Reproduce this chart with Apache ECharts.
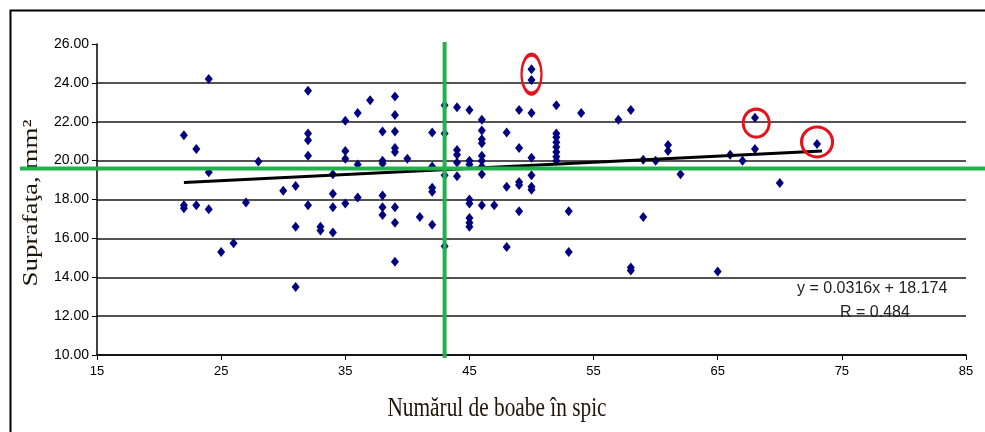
<!DOCTYPE html>
<html>
<head>
<meta charset="utf-8">
<script src="https://cdn.jsdelivr.net/npm/echarts@6/dist/echarts.min.js"></script>
<style>
  html, body { margin: 0; padding: 0; background: #fff; }
  #chart { width: 985px; height: 432px; }
</style>
</head>
<body>
<div id="chart"></div>
<script>
// numarul de boabe in spic (x) si suprafata (y)
const boabe = [
  22, 22, 22, 23, 23, 24, 24, 24, 25, 26, 27, 28, 30, 31, 31, 31,
  32, 32, 32, 32, 32, 33, 33, 34, 34, 34, 34, 35, 35, 35, 35,
  36, 36, 36, 37, 38, 38, 38, 38, 38, 38,
  39, 39, 39, 39, 39, 39, 39, 39, 40, 41,
  42, 42, 42, 42, 42, 43, 43, 43, 43, 44, 44, 44, 44, 44,
  45, 45, 45, 45, 45, 45, 45, 45,
  46, 46, 46, 46, 46, 46, 46, 46, 46, 47, 48, 48, 48,
  49, 49, 49, 49, 49, 50, 50, 50, 50, 50, 50, 50,
  52, 52, 52, 52, 52, 52, 52, 52, 53, 53, 54, 57, 58, 58, 58,
  59, 59, 60, 61, 61, 62, 65, 66, 67, 68, 68, 70, 73
]
const suprafata = [
  21.3, 17.55, 17.7, 20.6, 17.7, 24.2, 19.4, 17.5, 15.3, 15.75, 17.85, 19.95, 18.45, 18.7, 16.6, 13.5,
  23.6, 21.4, 21.05, 20.25, 17.7, 16.6, 16.4, 19.3, 18.3, 17.6, 16.3, 22.05, 20.5, 20.1, 17.8,
  22.45, 19.8, 18.1, 23.1, 21.5, 20.0, 19.85, 18.2, 17.6, 17.2,
  23.3, 22.35, 21.5, 20.65, 20.45, 17.6, 16.8, 14.8, 20.1, 17.1,
  21.45, 19.7, 18.6, 18.4, 16.7, 22.85, 21.4, 19.25, 15.6, 22.75, 20.55, 20.3, 19.9, 19.2,
  22.6, 20.0, 19.8, 18.0, 17.8, 17.05, 16.8, 16.6,
  22.1, 21.55, 21.1, 20.9, 20.25, 20.0, 19.7, 19.3, 17.7, 17.7, 21.45, 18.65, 15.55,
  22.6, 20.65, 18.9, 18.75, 17.4, 24.7, 24.15, 22.45, 20.15, 19.25, 18.65, 18.5,
  22.85, 21.4, 21.2, 20.95, 20.7, 20.45, 20.2, 20.0, 17.4, 15.3, 22.45, 22.1, 22.6, 14.5, 14.35,
  20.05, 17.1, 20.0, 20.8, 20.5, 19.3, 14.3, 20.3, 20.0, 22.2, 20.6, 18.85, 20.85
]

// linia de trend (capete) si media (liniile verzi)
const trendLine = [[22, 18.87], [73.4, 20.49]]
const mediaBoabe = 43
const mediaSuprafata = 19.6

// punctele incercuite cu rosu: [x, y, latime, inaltime]
const cercuri = [[50, 24.45, 20, 39], [68.1, 21.93, 26, 28], [73, 20.96, 31, 30]]

const xTicks = { min: 15, max: 85, interval: 10 }
const yTicks = { min: 10, max: 26, interval: 2 }

const puncte = boabe.map((x, i) => [x, suprafata[i]])
const verde = '#22b14c'
const titluFont = '27px "Liberation Serif"'

const myChart = echarts.init(document.getElementById('chart'))
myChart.setOption({
  backgroundColor: '#fff',
  animation: false,
  grid: [
    { left: 97, right: 19, top: 44, bottom: 77 },
    { left: 20, right: 0, top: 44, bottom: 77 },
    { left: 97, right: 19, top: 42, bottom: 74 }
  ],
  xAxis: [
    {
      gridIndex: 0, type: 'value', ...xTicks,
      axisLine: { lineStyle: { color: '#000', width: 1.5 } },
      axisTick: { length: 5, lineStyle: { color: '#000' } },
      axisLabel: { fontFamily: 'Liberation Sans', fontSize: 13, color: '#000', margin: 10 },
      splitLine: { show: false }
    },
    { gridIndex: 1, type: 'value', min: 0, max: 1, show: false },
    { gridIndex: 2, type: 'value', ...xTicks, show: false }
  ],
  yAxis: [
    {
      gridIndex: 0, type: 'value', ...yTicks,
      axisLine: { show: true, lineStyle: { color: '#000', width: 1.5 } },
      axisTick: { show: true, length: 5, lineStyle: { color: '#000' } },
      axisLabel: { fontFamily: 'Liberation Sans', fontSize: 14, color: '#000', margin: 8,
        formatter: v => v.toFixed(2) },
      splitLine: { show: true, showMaxLine: false, lineStyle: { color: '#1a1a1a', width: 1.5 } }
    },
    { gridIndex: 1, type: 'value', ...yTicks, show: false },
    { gridIndex: 2, type: 'value', min: 0, max: 1, show: false }
  ],
  graphic: [
    // cadrul graficului
    { type: 'rect', left: 8, top: 8, shape: { width: 1000, height: 500 },
      style: { fill: 'none', stroke: '#000', lineWidth: 2 }, z: -10 },
    // titlurile axelor (scrisul din original e ingustat)
    { type: 'text', x: 497, y: 409, scaleX: 0.79,
      style: { text: 'Numărul de boabe în spic', font: titluFont, fill: '#1f1408',
        align: 'center', verticalAlign: 'middle' } },
    { type: 'text', x: 31, y: 203, rotation: Math.PI / 2, scaleY: 0.79,
      style: { text: 'Suprafaţa, mm²', font: titluFont, fill: '#1f1408',
        align: 'center', verticalAlign: 'middle' } },
    { type: 'text', left: 797, top: 281,
      style: { text: 'y = 0.0316x + 18.174', font: '16px "Liberation Sans"', fill: '#222' } },
    { type: 'text', left: 840, top: 305,
      style: { text: 'R = 0.484', font: '16px "Liberation Sans"', fill: '#222' } }
  ],
  series: [
    {
      type: 'scatter', xAxisIndex: 0, yAxisIndex: 0, data: puncte,
      symbol: 'diamond', symbolSize: [8, 10],
      itemStyle: { color: '#000080', opacity: 1 }, z: 2
    },
    {
      type: 'line', xAxisIndex: 0, yAxisIndex: 0, data: trendLine,
      symbol: 'none', lineStyle: { color: '#000', width: 3 }, z: 3
    },
    {
      type: 'scatter', xAxisIndex: 0, yAxisIndex: 0,
      data: cercuri.map(c => ({ value: [c[0], c[1]], symbolSize: [c[2], c[3]] })),
      symbol: 'circle',
      itemStyle: { color: 'rgba(0,0,0,0)', borderColor: '#e8101a', borderWidth: 3, opacity: 1 }, z: 4
    },
    {
      // linia verde orizontala, mai lunga decat zona graficului
      type: 'line', xAxisIndex: 1, yAxisIndex: 1,
      data: [[0, mediaSuprafata], [1, mediaSuprafata]],
      symbol: 'none', lineStyle: { color: verde, width: 4 }, z: 5
    },
    {
      type: 'line', xAxisIndex: 2, yAxisIndex: 2,
      data: [[mediaBoabe, 0], [mediaBoabe, 1]],
      symbol: 'none', lineStyle: { color: verde, width: 4 }, z: 5
    }
  ]
})
</script>
</body>
</html>
